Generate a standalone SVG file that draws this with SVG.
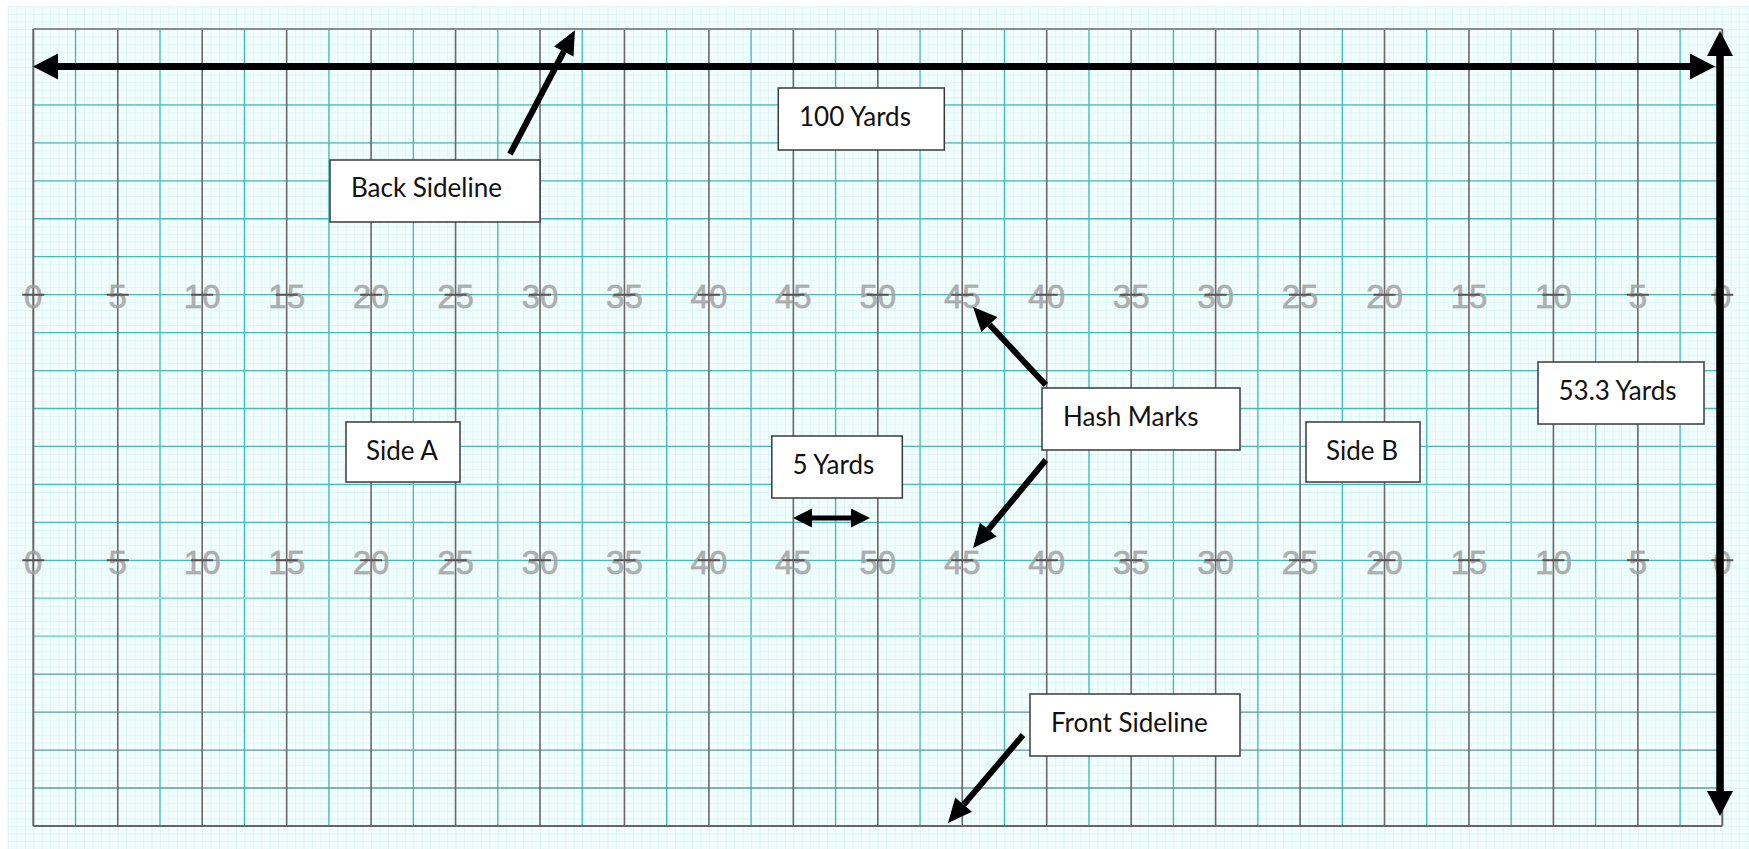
<svg xmlns="http://www.w3.org/2000/svg" width="1749" height="849" viewBox="0 0 1749 849">
<style>
.box{fill:#ffffff;stroke:#3a3a3a;stroke-width:1.5}
.lbl{font-family:Lato,"Liberation Sans",sans-serif;font-size:26px;fill:#111}
.num{font-family:"Liberation Sans",Arial,sans-serif;font-size:33px;fill:#9c9c9c;fill-opacity:0.8;stroke:#a4a4a4;stroke-opacity:0.6;stroke-width:1;text-anchor:middle}
.arr{stroke:#000;fill:none;stroke-linecap:butt}
</style>
<defs>
<pattern id="fine" patternUnits="userSpaceOnUse" x="33.3" y="29" width="8.445" height="7.59">
<rect width="8.445" height="7.59" fill="#f1fcfc"/>
<path d="M0 0V7.59M0 0H8.445" stroke="#cdf1f1" stroke-width="0.9"/>
</pattern>
<marker id="hBig" markerUnits="userSpaceOnUse" viewBox="0 -13 25 26" refX="0" refY="0" markerWidth="25" markerHeight="26" orient="auto-start-reverse" overflow="visible">
<path d="M0 -13L25 0L0 13z" fill="#000"/>
</marker>
<marker id="hMed" markerUnits="userSpaceOnUse" viewBox="0 -11 24 22" refX="0" refY="0" markerWidth="24" markerHeight="22" orient="auto-start-reverse" overflow="visible">
<path d="M0 -11L24 0L0 11z" fill="#000"/>
</marker>
<marker id="hSmall" markerUnits="userSpaceOnUse" viewBox="0 -9.5 19 19" refX="0" refY="0" markerWidth="19" markerHeight="19" orient="auto-start-reverse" overflow="visible">
<path d="M0 -9.5L19 0L0 9.5z" fill="#000"/>
</marker>
</defs>

<rect width="1749" height="849" fill="#ffffff"/>
<rect id="background" x="7" y="6" width="1742" height="843" fill="url(#fine)"/>

<g id="field-grid" fill="none">
<path stroke="#3fbaba" stroke-width="1.3" d="M75.53 29V826M159.98 29V826M244.43 29V826M328.88 29V826M413.33 29V826M497.78 29V826M582.23 29V826M666.68 29V826M751.13 29V826M835.58 29V826M920.03 29V826M1004.48 29V826M1088.93 29V826M1173.38 29V826M1257.83 29V826M1342.28 29V826M1426.73 29V826M1511.18 29V826M1595.63 29V826M1680.08 29V826"/>
<path stroke="#48b8b8" stroke-width="1.3" d="M33.3 66.95H1722.3M33.3 104.9H1722.3M33.3 142.85H1722.3M33.3 180.8H1722.3M33.3 218.75H1722.3M33.3 256.7H1722.3M33.3 294.65H1722.3M33.3 332.6H1722.3M33.3 370.55H1722.3M33.3 408.5H1722.3M33.3 446.45H1722.3M33.3 484.4H1722.3M33.3 522.35H1722.3M33.3 560.3H1722.3"/>
<path stroke="#86dccf" stroke-width="2" d="M33.3 598.25H1722.3M33.3 636.2H1722.3"/>
<path stroke="#5c9ca2" stroke-width="1.3" d="M33.3 674.15H1722.3M33.3 712.1H1722.3M33.3 750.05H1722.3M33.3 788H1722.3"/>
<path stroke="#6a6a6a" stroke-width="1.6" d="M117.75 29V826M202.2 29V826M286.65 29V826M371.1 29V826M455.55 29V826M540 29V826M624.45 29V826M708.9 29V826M793.35 29V826M877.8 29V826M962.25 29V826M1046.7 29V826M1131.15 29V826M1215.6 29V826M1300.05 29V826M1384.5 29V826M1468.95 29V826M1553.4 29V826M1637.85 29V826"/>
<path stroke="#8a8a8a" stroke-width="2" d="M33.3 29H1722.3"/>
<path stroke="#666" stroke-width="2" d="M33.3 29V826M1722.3 29V826M33.3 826H1722.3"/>
</g>

<g id="yard-numbers">
<g class="num">
<text x="33.3" y="307.5">0</text><text x="117.75" y="307.5">5</text><text x="202.2" y="307.5">10</text><text x="286.65" y="307.5">15</text><text x="371.1" y="307.5">20</text><text x="455.55" y="307.5">25</text><text x="540" y="307.5">30</text><text x="624.45" y="307.5">35</text><text x="708.9" y="307.5">40</text><text x="793.35" y="307.5">45</text><text x="877.8" y="307.5">50</text><text x="962.25" y="307.5">45</text><text x="1046.7" y="307.5">40</text><text x="1131.15" y="307.5">35</text><text x="1215.6" y="307.5">30</text><text x="1300.05" y="307.5">25</text><text x="1384.5" y="307.5">20</text><text x="1468.95" y="307.5">15</text><text x="1553.4" y="307.5">10</text><text x="1637.85" y="307.5">5</text><text x="1722.3" y="307.5">0</text>
<text x="33.3" y="573.5">0</text><text x="117.75" y="573.5">5</text><text x="202.2" y="573.5">10</text><text x="286.65" y="573.5">15</text><text x="371.1" y="573.5">20</text><text x="455.55" y="573.5">25</text><text x="540" y="573.5">30</text><text x="624.45" y="573.5">35</text><text x="708.9" y="573.5">40</text><text x="793.35" y="573.5">45</text><text x="877.8" y="573.5">50</text><text x="962.25" y="573.5">45</text><text x="1046.7" y="573.5">40</text><text x="1131.15" y="573.5">35</text><text x="1215.6" y="573.5">30</text><text x="1300.05" y="573.5">25</text><text x="1384.5" y="573.5">20</text><text x="1468.95" y="573.5">15</text><text x="1553.4" y="573.5">10</text><text x="1637.85" y="573.5">5</text><text x="1722.3" y="573.5">0</text>
</g>
<path id="hash-ticks" fill="none" stroke="#555" stroke-width="2" d="M22.3 294.65h22M106.75 294.65h22M191.2 294.65h22M275.65 294.65h22M360.1 294.65h22M444.55 294.65h22M529 294.65h22M613.45 294.65h22M697.9 294.65h22M782.35 294.65h22M866.8 294.65h22M951.25 294.65h22M1035.7 294.65h22M1120.15 294.65h22M1204.6 294.65h22M1289.05 294.65h22M1373.5 294.65h22M1457.95 294.65h22M1542.4 294.65h22M1626.85 294.65h22M1711.3 294.65h22M22.3 560.3h22M106.75 560.3h22M191.2 560.3h22M275.65 560.3h22M360.1 560.3h22M444.55 560.3h22M529 560.3h22M613.45 560.3h22M697.9 560.3h22M782.35 560.3h22M866.8 560.3h22M951.25 560.3h22M1035.7 560.3h22M1120.15 560.3h22M1204.6 560.3h22M1289.05 560.3h22M1373.5 560.3h22M1457.95 560.3h22M1542.4 560.3h22M1626.85 560.3h22M1711.3 560.3h22"/>
</g>

<g id="connectors">
<line class="arr" stroke-width="7" x1="58" y1="66.5" x2="1690" y2="66.5" marker-start="url(#hBig)" marker-end="url(#hBig)"/>
<line class="arr" stroke-width="7.5" x1="1720" y1="56" x2="1720" y2="791" marker-start="url(#hBig)" marker-end="url(#hBig)"/>
<line class="arr" stroke-width="6" x1="510" y1="154" x2="563.8" y2="51.5" marker-end="url(#hMed)"/>
<line class="arr" stroke-width="6" x1="1045.8" y1="385" x2="989.4" y2="324.5" marker-end="url(#hMed)"/>
<line class="arr" stroke-width="6" x1="1045.8" y1="460" x2="988.3" y2="529.5" marker-end="url(#hMed)"/>
<line class="arr" stroke-width="6" x1="1023" y1="735" x2="963.6" y2="804.7" marker-end="url(#hMed)"/>
<line class="arr" stroke-width="5" x1="812" y1="518" x2="851" y2="518" marker-start="url(#hSmall)" marker-end="url(#hSmall)"/>
</g>

<g id="node-100-yards"><rect class="box" x="778.3" y="88" width="166" height="62"/><text class="lbl" x="799" y="126">100 Yards</text></g>
<g id="node-back-sideline"><rect class="box" x="330" y="160" width="210" height="62"/><text class="lbl" x="351" y="197">Back Sideline</text></g>
<g id="node-side-a"><rect class="box" x="346" y="422" width="114" height="60"/><text class="lbl" x="366" y="460">Side A</text></g>
<g id="node-side-b"><rect class="box" x="1306" y="422" width="114" height="60"/><text class="lbl" x="1326" y="460">Side B</text></g>
<g id="node-53-yards"><rect class="box" x="1538" y="362" width="166" height="62"/><text class="lbl" x="1558.5" y="400">53.3 Yards</text></g>
<g id="node-hash-marks"><rect class="box" x="1042" y="388" width="198" height="62"/><text class="lbl" x="1063" y="426">Hash Marks</text></g>
<g id="node-5-yards"><rect class="box" x="771.8" y="436" width="130.5" height="62"/><text class="lbl" x="792.5" y="474">5 Yards</text></g>
<g id="node-front-sideline"><rect class="box" x="1030" y="694" width="210" height="62"/><text class="lbl" x="1051" y="732">Front Sideline</text></g>
</svg>
